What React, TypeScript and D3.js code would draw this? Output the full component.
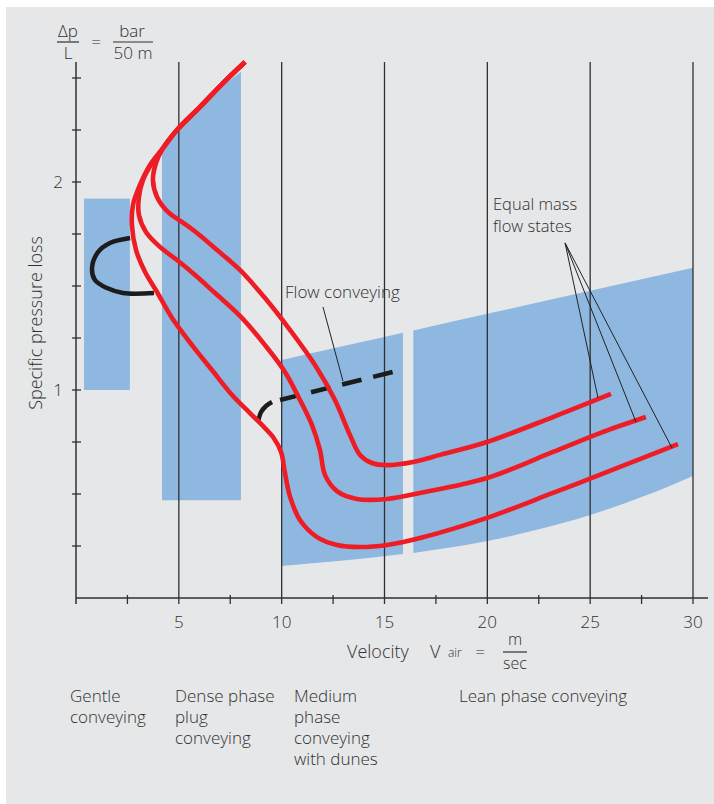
import React from 'react';
import * as d3 from 'd3';

// velocity (m/sec) vs specific pressure loss (bar / 50 m)
const sharedTop = [[8.22, 2.577], [7.1, 2.471], [6.03, 2.361], [4.91, 2.25], [4.23, 2.163]];

const outerBranch = [
  [3.6, 2.082], [3.11, 1.986], [2.77, 1.889], [2.72, 1.793], [2.92, 1.673], [3.36, 1.567],
  [3.94, 1.471], [4.67, 1.346], [5.64, 1.216], [6.61, 1.096], [7.59, 0.976], [8.46, 0.889],
  [9.04, 0.832], [9.58, 0.774], [9.97, 0.702], [10.16, 0.601], [10.41, 0.486], [10.89, 0.375],
  [11.72, 0.293], [12.69, 0.255], [13.81, 0.245], [15.12, 0.255], [16.73, 0.288], [19.98, 0.385],
  [23.19, 0.505], [26.45, 0.63], [29.27, 0.74]
];

const middleBranch = [
  [3.7, 2.091], [3.26, 2.01], [3.06, 1.928], [3.06, 1.841], [3.4, 1.76], [4.08, 1.688],
  [4.91, 1.625], [5.79, 1.553], [6.76, 1.466], [7.97, 1.356], [9.19, 1.216], [10.16, 1.087],
  [10.89, 0.952], [11.47, 0.832], [11.86, 0.712], [12.11, 0.591], [12.69, 0.514], [13.66, 0.476],
  [15.12, 0.476], [16.73, 0.505], [19.98, 0.577], [23.19, 0.702], [25.48, 0.793], [27.71, 0.87]
];

const innerBranch = [
  [3.89, 2.091], [3.74, 2.01], [3.94, 1.928], [4.47, 1.856], [5.15, 1.808], [5.88, 1.755],
  [6.86, 1.673], [7.97, 1.577], [9.19, 1.442], [10.41, 1.288], [11.62, 1.12], [12.59, 0.952],
  [13.32, 0.784], [13.81, 0.688], [14.39, 0.649], [15.12, 0.639], [16.39, 0.654], [17.7, 0.688],
  [19.98, 0.75], [23.19, 0.87], [26.01, 0.981]
];

// shaded regimes
const gentleVel = [0.39, 2.62];
const gentleLoss = [1.0, 1.92];
const denseVel = [4.18, 8.02];
const denseBottom = 0.47;
const denseTopEdge = [[4.18, 2.14], [4.91, 2.24], [6.03, 2.35], [7.1, 2.46], [8.02, 2.53]];
const mediumVel = [10, 13, 15.9];
const mediumTop = [1.144, 1.211, 1.275];
const mediumBottom = [0.154, 0.18, 0.212];
const leanVel = [16.4, 20, 22.5, 25, 27.5, 30];
const leanTop = [1.286, 1.366, 1.422, 1.477, 1.533, 1.588];
const leanBottom = [0.216, 0.274, 0.33, 0.399, 0.485, 0.587];

// black marks
const gentleLoop = [[2.63, 1.731], [1.65, 1.707], [1.07, 1.663], [0.78, 1.587], [0.92, 1.529], [1.51, 1.49], [2.29, 1.466], [3.79, 1.466]];
const duneArc = [[8.85, 0.846], [9.0, 0.894], [9.24, 0.923], [9.53, 0.942]];
const flowDash = [[9.92, 0.952], [15.41, 1.087]];

// annotation leaders
const flowLeader = [[12.01, 1.399], [12.98, 1.043]];
const massLeaderFrom = [23.78, 1.707];
const massLeaderTo = [[25.38, 0.962], [27.23, 0.846], [28.98, 0.721]];

const xMajorTicks = [5, 10, 15, 20, 25, 30];
const xMinorTicks = [2.5, 7.5, 12.5, 17.5, 22.5, 27.5];
const yTicks = [0.25, 0.5, 0.75, 1, 1.25, 1.5, 1.75, 2, 2.25, 2.5];
const yLabels = [1, 2];

const regionLabels = [
  { x: 70, lines: ['Gentle', 'conveying'] },
  { x: 175, lines: ['Dense phase', 'plug', 'conveying'] },
  { x: 294, lines: ['Medium', 'phase', 'conveying', 'with dunes'] },
  { x: 459, lines: ['Lean phase conveying'] }
];

const RED = '#ee1d25';
const BLUE = '#8fb8e0';
const INK = '#303030';
const FONT = '"Open Sans", sans-serif';

export default function App() {
  const x = d3.scaleLinear().domain([0, 30]).range([76, 693]);
  const y = d3.scaleLinear().domain([0, 1]).range([598, 390]);
  const yTop = 2.577;

  const line = d3.line<number[]>()
    .x(d => x(d[0]))
    .y(d => y(d[1]))
    .curve(d3.curveCatmullRom.alpha(0.5));
  const straight = d3.line<number[]>().x(d => x(d[0])).y(d => y(d[1]));

  const band = (vel: number[], top: number[], bottom: number[]) =>
    d3.area<number>()
      .x((_, i) => x(vel[i]))
      .y0((_, i) => y(bottom[i]))
      .y1((_, i) => y(top[i]))
      .curve(d3.curveMonotoneX)(vel);

  const densePoly = [[denseVel[0], denseBottom], ...denseTopEdge, [denseVel[1], denseBottom]];

  const curves = [outerBranch, middleBranch, innerBranch].map(b => [...sharedTop, ...b]);

  return (
    <svg width={714} height={804} style={{ position: 'absolute', left: 0, top: 0 }} fontFamily={FONT} fontWeight={350}>
      <rect x={0} y={0} width={714} height={804} fill="#ffffff" />
      <rect x={6} y={7} width={708} height={797} fill="#e6e7e9" />

      {/* regime bands */}
      <rect x={x(gentleVel[0])} y={y(gentleLoss[1])} width={x(gentleVel[1]) - x(gentleVel[0])}
        height={y(gentleLoss[0]) - y(gentleLoss[1])} fill={BLUE} />
      <path d={straight(densePoly) + 'Z'} fill={BLUE} />
      <path d={band(mediumVel, mediumTop, mediumBottom) || ''} fill={BLUE} />
      <path d={band(leanVel, leanTop, leanBottom) || ''} fill={BLUE} />

      {/* grid lines */}
      {xMajorTicks.map(t => (
        <line key={'g' + t} x1={x(t)} x2={x(t)} y1={y(yTop)} y2={604} stroke={INK} strokeWidth={1.3} />
      ))}

      {/* axes */}
      <line x1={x(0)} x2={x(0)} y1={y(yTop)} y2={604} stroke={INK} strokeWidth={1.5} />
      <line x1={x(0)} x2={x(30.73)} y1={y(0)} y2={y(0)} stroke={INK} strokeWidth={1.5} />
      {xMinorTicks.map(t => (
        <line key={'m' + t} x1={x(t)} x2={x(t)} y1={595} y2={604} stroke={INK} strokeWidth={1.3} />
      ))}
      {yTicks.map(t => (
        <line key={'y' + t} x1={72} x2={81} y1={y(t)} y2={y(t)} stroke={INK} strokeWidth={1.3} />
      ))}
      {yLabels.map(t => (
        <text key={'yl' + t} x={63} y={y(t) + 6} textAnchor="end" fontSize={17} fill={INK}>{t}</text>
      ))}
      {xMajorTicks.map(t => (
        <text key={'xl' + t} x={x(t)} y={628} textAnchor="middle" fontSize={17} fill={INK}>{t}</text>
      ))}

      {/* black marks */}
      <path d={line(gentleLoop) || ''} fill="none" stroke="#1c1c1c" strokeWidth={4.5} />
      <path d={line(duneArc) || ''} fill="none" stroke="#1c1c1c" strokeWidth={4.5} />
      <path d={straight(flowDash) || ''} fill="none" stroke="#1c1c1c" strokeWidth={4.5} strokeDasharray="20 12" />

      {/* equal mass flow curves */}
      {curves.map((c, i) => (
        <path key={'c' + i} d={line(c) || ''} fill="none" stroke={RED} strokeWidth={4.6} strokeLinejoin="round" />
      ))}

      {/* leaders */}
      <path d={straight(flowLeader) || ''} stroke="#222" strokeWidth={1} fill="none" />
      {massLeaderTo.map((p, i) => (
        <path key={'ml' + i} d={straight([massLeaderFrom, p]) || ''} stroke="#222" strokeWidth={1} fill="none" />
      ))}

      {/* annotations */}
      <text x={285} y={298} fontSize={17} fill={INK}>Flow conveying</text>
      <text x={493} y={210} fontSize={16.5} fill={INK}>Equal mass</text>
      <text x={493} y={232} fontSize={16.5} fill={INK}>flow states</text>

      {/* y axis title */}
      <text transform="translate(42,323) rotate(-90)" textAnchor="middle" fontSize={18} fill={INK}>Specific pressure loss</text>

      {/* unit fraction top-left */}
      <g fill={INK} fontSize={17}>
        <text x={68} y={37} textAnchor="middle">Δp</text>
        <line x1={57} x2={79} y1={42} y2={42} stroke={INK} strokeWidth={1.2} />
        <text x={68} y={59} textAnchor="middle">L</text>
        <text x={96} y={48} textAnchor="middle">=</text>
        <text x={132} y={37} textAnchor="middle">bar</text>
        <line x1={113} x2={153} y1={42} y2={42} stroke={INK} strokeWidth={1.2} />
        <text x={133} y={59} textAnchor="middle">50 m</text>
      </g>

      {/* x axis title */}
      <g fill={INK}>
        <text x={347} y={658} fontSize={18}>Velocity</text>
        <text x={430} y={658} fontSize={18}>V</text>
        <text x={448} y={657} fontSize={12}>air</text>
        <text x={480} y={658} fontSize={17} textAnchor="middle">=</text>
        <text x={515} y={645} fontSize={16} textAnchor="middle">m</text>
        <line x1={503} x2={527} y1={652} y2={652} stroke={INK} strokeWidth={1.2} />
        <text x={515} y={669} fontSize={16} textAnchor="middle">sec</text>
      </g>

      {/* regime labels */}
      {regionLabels.map(r => (
        <text key={r.lines[0]} x={r.x} y={702} fontSize={17} fill={INK}>
          {r.lines.map((l, i) => (
            <tspan key={i} x={r.x} dy={i === 0 ? 0 : 21}>{l}</tspan>
          ))}
        </text>
      ))}
    </svg>
  );
}
